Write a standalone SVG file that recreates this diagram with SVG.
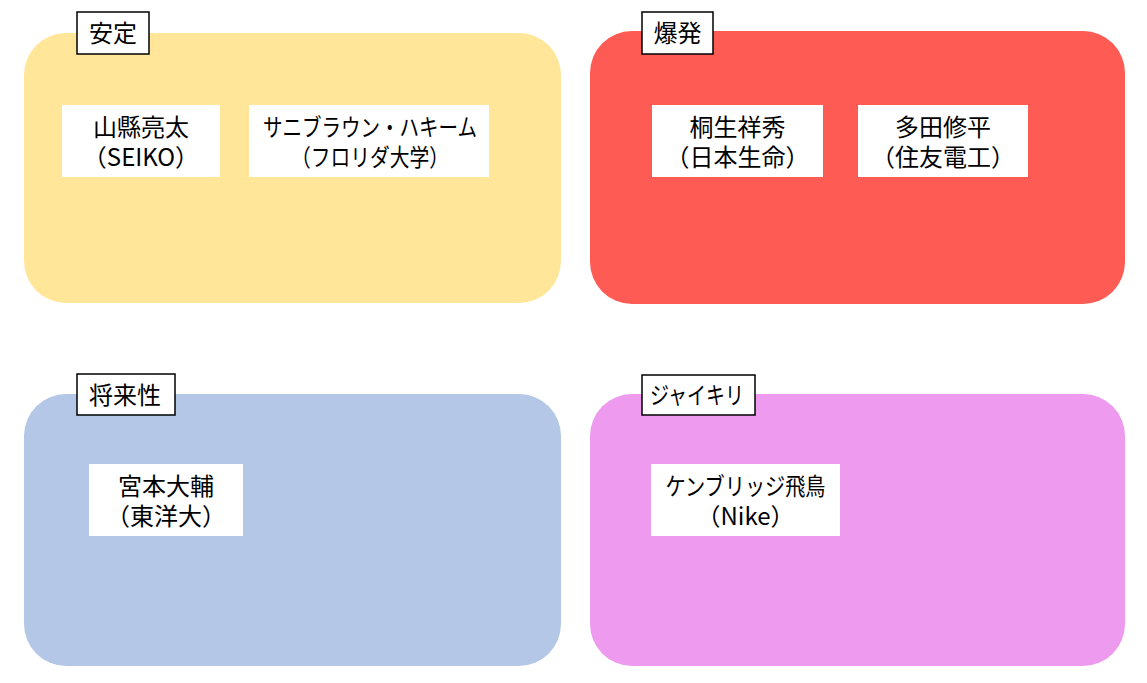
<svg xmlns="http://www.w3.org/2000/svg" width="1147" height="683" viewBox="0 0 1147 683">
<style>
.panel{stroke:none}
.card{fill:#ffffff;stroke:none}
.tag{fill:#ffffff;stroke:#000000;stroke-width:1.5}
text{font-family:"Noto Sans CJK JP","Noto Sans",sans-serif;font-size:24px;fill:#000000;text-anchor:middle}
</style>
<rect x="0" y="0" width="1147" height="683" fill="#ffffff"/>
<g id="panel-antei">
<rect class="panel" x="24" y="33" width="537" height="270" rx="42" ry="42" fill="#FFE699"/>
<rect class="tag" x="77" y="12" width="72" height="42"/>
<text x="113" y="42">安定</text>
</g>
<g id="panel-bakuhatsu">
<rect class="panel" x="590" y="31" width="535" height="273" rx="42" ry="42" fill="#FF5B55"/>
<rect class="tag" x="642" y="12" width="71" height="42"/>
<text x="677.5" y="42">爆発</text>
</g>
<g id="panel-shoraisei">
<rect class="panel" x="24" y="394" width="537" height="272" rx="42" ry="42" fill="#B4C7E7"/>
<rect class="tag" x="77" y="374" width="98" height="41"/>
<text x="125" y="404">将来性</text>
</g>
<g id="panel-jaikiri">
<rect class="panel" x="590" y="394" width="535" height="272" rx="42" ry="42" fill="#EE9AEE"/>
<rect class="tag" x="642" y="375" width="113" height="40"/>
<text x="697" y="404" textLength="94" lengthAdjust="spacingAndGlyphs">ジャイキリ</text>
</g>
<g id="node-yamagata">
<rect class="card" x="62" y="105" width="158" height="72"/>
<text x="141" y="136">山縣亮太<tspan x="141" y="166">（SEIKO）</tspan></text>
</g>
<g id="node-sani">
<rect class="card" x="249" y="105" width="240" height="72"/>
<text x="370" y="136"><tspan x="370" y="136" textLength="214" lengthAdjust="spacingAndGlyphs">サニブラウン・ハキーム</tspan><tspan x="370" y="166" textLength="158" lengthAdjust="spacingAndGlyphs">（フロリダ大学）</tspan></text>
</g>
<g id="node-kiryu">
<rect class="card" x="652" y="105" width="171" height="72"/>
<text x="737.5" y="136">桐生祥秀<tspan x="737.5" y="166">（日本生命）</tspan></text>
</g>
<g id="node-tada">
<rect class="card" x="858" y="105" width="170" height="72"/>
<text x="943" y="136">多田修平<tspan x="943" y="166">（住友電工）</tspan></text>
</g>
<g id="node-miyamoto">
<rect class="card" x="89" y="464" width="154" height="72"/>
<text x="166" y="495">宮本大輔<tspan x="166" y="525">（東洋大）</tspan></text>
</g>
<g id="node-cambridge">
<rect class="card" x="651" y="464" width="189" height="72"/>
<text x="745.5" y="495"><tspan x="745.5" y="495" textLength="160" lengthAdjust="spacingAndGlyphs">ケンブリッジ飛鳥</tspan><tspan x="745.5" y="525">（Nike）</tspan></text>
</g>
<g id="connectors"></g>
</svg>
